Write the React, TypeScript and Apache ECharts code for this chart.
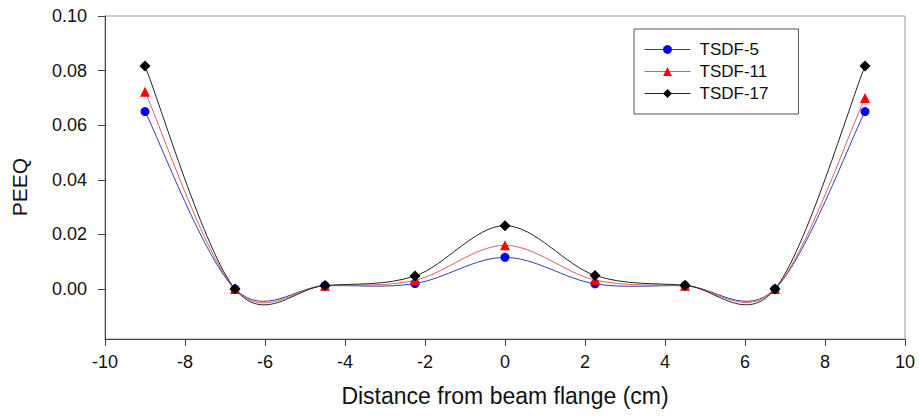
import React, { useEffect, useRef } from "react";
import * as echarts from "echarts";

const xPositions = [-9, -6.75, -4.5, -2.25, 0, 2.25, 4.5, 6.75, 9];
const tsdf5 = [0.065, 0, 0.0012, 0.002, 0.0116, 0.0019, 0.0012, 0, 0.065];
const tsdf11 = [0.0723, 0, 0.0012, 0.0032, 0.016, 0.0033, 0.0012, 0, 0.07];
const tsdf17 = [0.0817, 0, 0.0013, 0.0048, 0.0232, 0.005, 0.0014, 0, 0.0817];
const yTicks = [0, 0.02, 0.04, 0.06, 0.08, 0.1];
const seriesNames = ["TSDF-5", "TSDF-11", "TSDF-17"];
const lineColors = ["#3a3aa8", "#d96060", "#222222"];
const markerColors = ["#0000ff", "#ff0000", "#000000"];
const markerShapes = ["circle", "triangle", "diamond"];
const markerSizes = [9, 10, 11];

const FONT = "'Liberation Sans', Arial, sans-serif";

function curveSeries(ys: number[], color: string, z: number) {
  const data = xPositions.map((x, i) => [x, ys[i]]);
  return {
    type: "custom",
    silent: true,
    z,
    clip: false,
    data,
    encode: { x: 0, y: 1 },
    renderItem: (params: any, api: any) => {
      const i = params.dataIndex;
      const n = data.length;
      if (i >= n - 1) return { type: "group", children: [] };
      const p = (k: number) => api.coord(data[Math.max(0, Math.min(n - 1, k))]);
      const p0 = p(i - 1);
      const p1 = p(i);
      const p2 = p(i + 1);
      const p3 = p(i + 2);
      const cp1 = [p1[0] + (p2[0] - p0[0]) / 6, p1[1] + (p2[1] - p0[1]) / 6];
      const cp2 = [p2[0] - (p3[0] - p1[0]) / 6, p2[1] - (p3[1] - p1[1]) / 6];
      return {
        type: "bezierCurve",
        shape: {
          x1: p1[0],
          y1: p1[1],
          x2: p2[0],
          y2: p2[1],
          cpx1: cp1[0],
          cpy1: cp1[1],
          cpx2: cp2[0],
          cpy2: cp2[1],
        },
        style: { stroke: color, lineWidth: 1, fill: "none" },
      };
    },
  };
}

export default function App() {
  const ref = useRef<HTMLDivElement>(null);
  useEffect(() => {
    if (!ref.current) return;
    const chart = echarts.init(ref.current, undefined, { renderer: "svg" });
    const allYs = [tsdf5, tsdf11, tsdf17];
    const markerSeries = seriesNames.map((name, k) => ({
      name,
      type: "line",
      data: xPositions.map((x, i) => [x, allYs[k][i]]),
      symbol: markerShapes[k],
      symbolSize: markerSizes[k],
      showAllSymbol: true,
      lineStyle: { color: lineColors[k], width: 1, opacity: 0 },
      itemStyle: { color: markerColors[k] },
      z: 10 + k,
    }));
    const curves = allYs.map((ys, k) => curveSeries(ys, lineColors[k], 3 + k));
    chart.setOption({
      animation: false,
      backgroundColor: "#ffffff",
      textStyle: { fontFamily: FONT },
      grid: {
        left: 105,
        right: 14,
        top: 16,
        bottom: 77,
        show: true,
        borderColor: "#999",
        borderWidth: 1,
      },
      legend: {
        orient: "vertical",
        left: 634,
        top: 29,
        width: 161,
        padding: [12, 30, 12, 10],
        borderColor: "#555",
        borderWidth: 1,
        itemWidth: 46,
        itemHeight: 11,
        itemGap: 5,
        textStyle: { fontSize: 17, color: "#111", fontFamily: FONT, padding: [0, 0, 0, 4] },
        data: seriesNames.map((name, k) => ({
          name,
          lineStyle: { color: lineColors[k], width: 1, opacity: 1 },
        })),
      },
      xAxis: {
        type: "value",
        min: -10,
        max: 10,
        interval: 2,
        name: "Distance from beam flange (cm)",
        nameLocation: "middle",
        nameGap: 45,
        nameTextStyle: { fontSize: 23, color: "#111", fontFamily: FONT },
        axisLine: { show: true, onZero: false, lineStyle: { color: "#444", width: 1 } },
        axisTick: { show: true, inside: false, length: 7, lineStyle: { color: "#444" } },
        axisLabel: { fontSize: 18, color: "#111", margin: 14, fontFamily: FONT },
        splitLine: { show: false },
      },
      yAxis: {
        type: "value",
        min: -0.0183,
        max: 0.1,
        axisLine: { show: true, onZero: false, lineStyle: { color: "#444", width: 1 } },
        axisTick: {
          show: true,
          inside: false,
          length: 7,
          lineStyle: { color: "#444" },
          customValues: yTicks,
        },
        axisLabel: {
          fontSize: 18,
          color: "#111",
          margin: 18,
          fontFamily: FONT,
          customValues: yTicks,
          formatter: (v: number) => v.toFixed(2),
        },
        splitLine: { show: false },
      },
      graphic: [
        {
          type: "text",
          x: 19,
          y: 187,
          rotation: Math.PI / 2,
          style: {
            text: "PEEQ",
            fontSize: 21,
            fill: "#111",
            fontFamily: FONT,
            align: "center",
            verticalAlign: "middle",
          },
        },
      ],
      series: [...curves, ...markerSeries],
    });
    return () => chart.dispose();
  }, []);
  return <div ref={ref} style={{ width: 919, height: 416, position: "absolute", left: 0, top: 0 }} />;
}
